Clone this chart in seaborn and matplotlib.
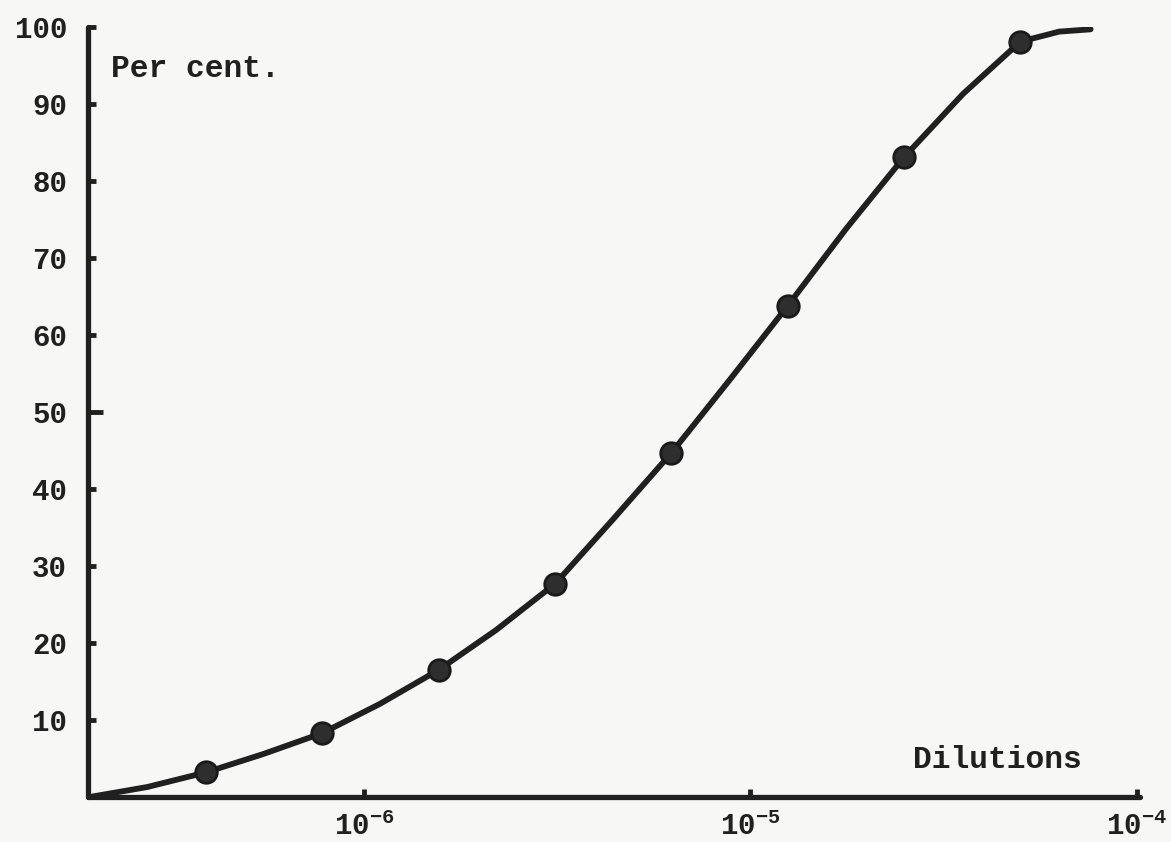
import matplotlib
matplotlib.use("Agg")
import matplotlib.pyplot as plt
import seaborn as sns
import pandas as pd

# ---- data ----
dilution = [3.9e-7, 7.8e-7, 1.56e-6, 3.125e-6, 6.25e-6, 1.25e-5, 2.5e-5, 5.0e-5]
percent = [3.2, 8.3, 16.5, 27.7, 44.7, 63.8, 83.1, 98.1]

# hand-drawn curve
curve_x = [1.95e-7, 2.75e-7, 3.9e-7, 5.5e-7, 7.8e-7, 1.1e-6, 1.56e-6, 2.2e-6,
           3.125e-6, 4.4e-6, 6.25e-6, 8.85e-6, 1.25e-5, 1.77e-5, 2.5e-5,
           3.55e-5, 5.0e-5, 6.3e-5, 7.6e-5]
curve_y = [0.0, 1.3, 3.2, 5.6, 8.3, 12.1, 16.5, 21.7, 27.7, 36.0, 44.7, 54.2,
           63.8, 73.8, 83.1, 91.3, 98.1, 99.4, 99.7]

y_ticks = [10, 20, 30, 40, 50, 60, 70, 80, 90, 100]
y_ticklabels = ["10", "20", "30", "40", "50", "60", "70", "80", "90", "100"]
x_ticks = [1e-6, 1e-5, 1e-4]
x_ticklabels = [r"$10^{-6}$", r"$10^{-5}$", r"$10^{-4}$"]
y_label = "Per cent."
x_label = "Dilutions"

# ---- style ----
sns.set_theme(style="ticks")
ink = "#202020"
paper = "#f7f7f5"
plt.rcParams["font.family"] = ["Liberation Mono", "DejaVu Sans Mono"]
plt.rcParams["font.weight"] = "bold"
plt.rcParams["mathtext.fontset"] = "custom"
plt.rcParams["mathtext.rm"] = "Liberation Mono:bold"
plt.rcParams["mathtext.it"] = "Liberation Mono:bold"
plt.rcParams["mathtext.bf"] = "Liberation Mono:bold"
plt.rcParams["axes.unicode_minus"] = False

fig = plt.figure(figsize=(11.71, 8.42), dpi=100, facecolor=paper)
ax = fig.add_axes([88 / 1171, 45 / 842, 1052 / 1171, 770 / 842])
ax.set_facecolor(paper)

curve = pd.DataFrame({"x": curve_x, "y": curve_y})
pts = pd.DataFrame({"x": dilution, "y": percent})

sns.lineplot(data=curve, x="x", y="y", ax=ax, sort=False, estimator=None,
             color=ink, linewidth=4.2, solid_capstyle="round",
             solid_joinstyle="round", zorder=2)
sns.scatterplot(data=pts, x="x", y="y", ax=ax, s=240, color="#2e2e2e",
                edgecolor="#1a1a1a", linewidth=2.0, zorder=3, clip_on=False)

ax.set_xscale("log")
ax.set_xlim(1.93e-7, 1.02e-4)
ax.set_ylim(0, 100)

sns.despine(ax=ax)
for side in ("left", "bottom"):
    ax.spines[side].set_linewidth(3.8)
    ax.spines[side].set_color(ink)
    ax.spines[side].set_capstyle("round")

ax.set_yticks(y_ticks)
ax.set_yticklabels(y_ticklabels)
ax.set_xticks(x_ticks)
ax.set_xticklabels(x_ticklabels)
ax.minorticks_off()
ax.tick_params(axis="y", direction="in", length=6, width=3.5, color=ink,
               labelsize=21, pad=15, labelcolor=ink)
ax.tick_params(axis="x", direction="in", length=6, width=3.5, color=ink,
               labelsize=21, pad=11, labelcolor=ink)
# the 50 % tick is drawn longer
for t, v in zip(ax.yaxis.get_major_ticks(), y_ticks):
    if v == 50:
        t.tick1line.set_markersize(11)

ax.set_xlabel("")
ax.set_ylabel("")
ax.text(0.022, 0.935, y_label, transform=ax.transAxes, fontsize=22.5,
        fontweight="bold", color=ink, ha="left", va="baseline")
ax.text(0.784, 0.0377, x_label, transform=ax.transAxes, fontsize=22.5,
        fontweight="bold", color=ink, ha="left", va="baseline")

fig.savefig("out.png", dpi=100, facecolor=paper)
